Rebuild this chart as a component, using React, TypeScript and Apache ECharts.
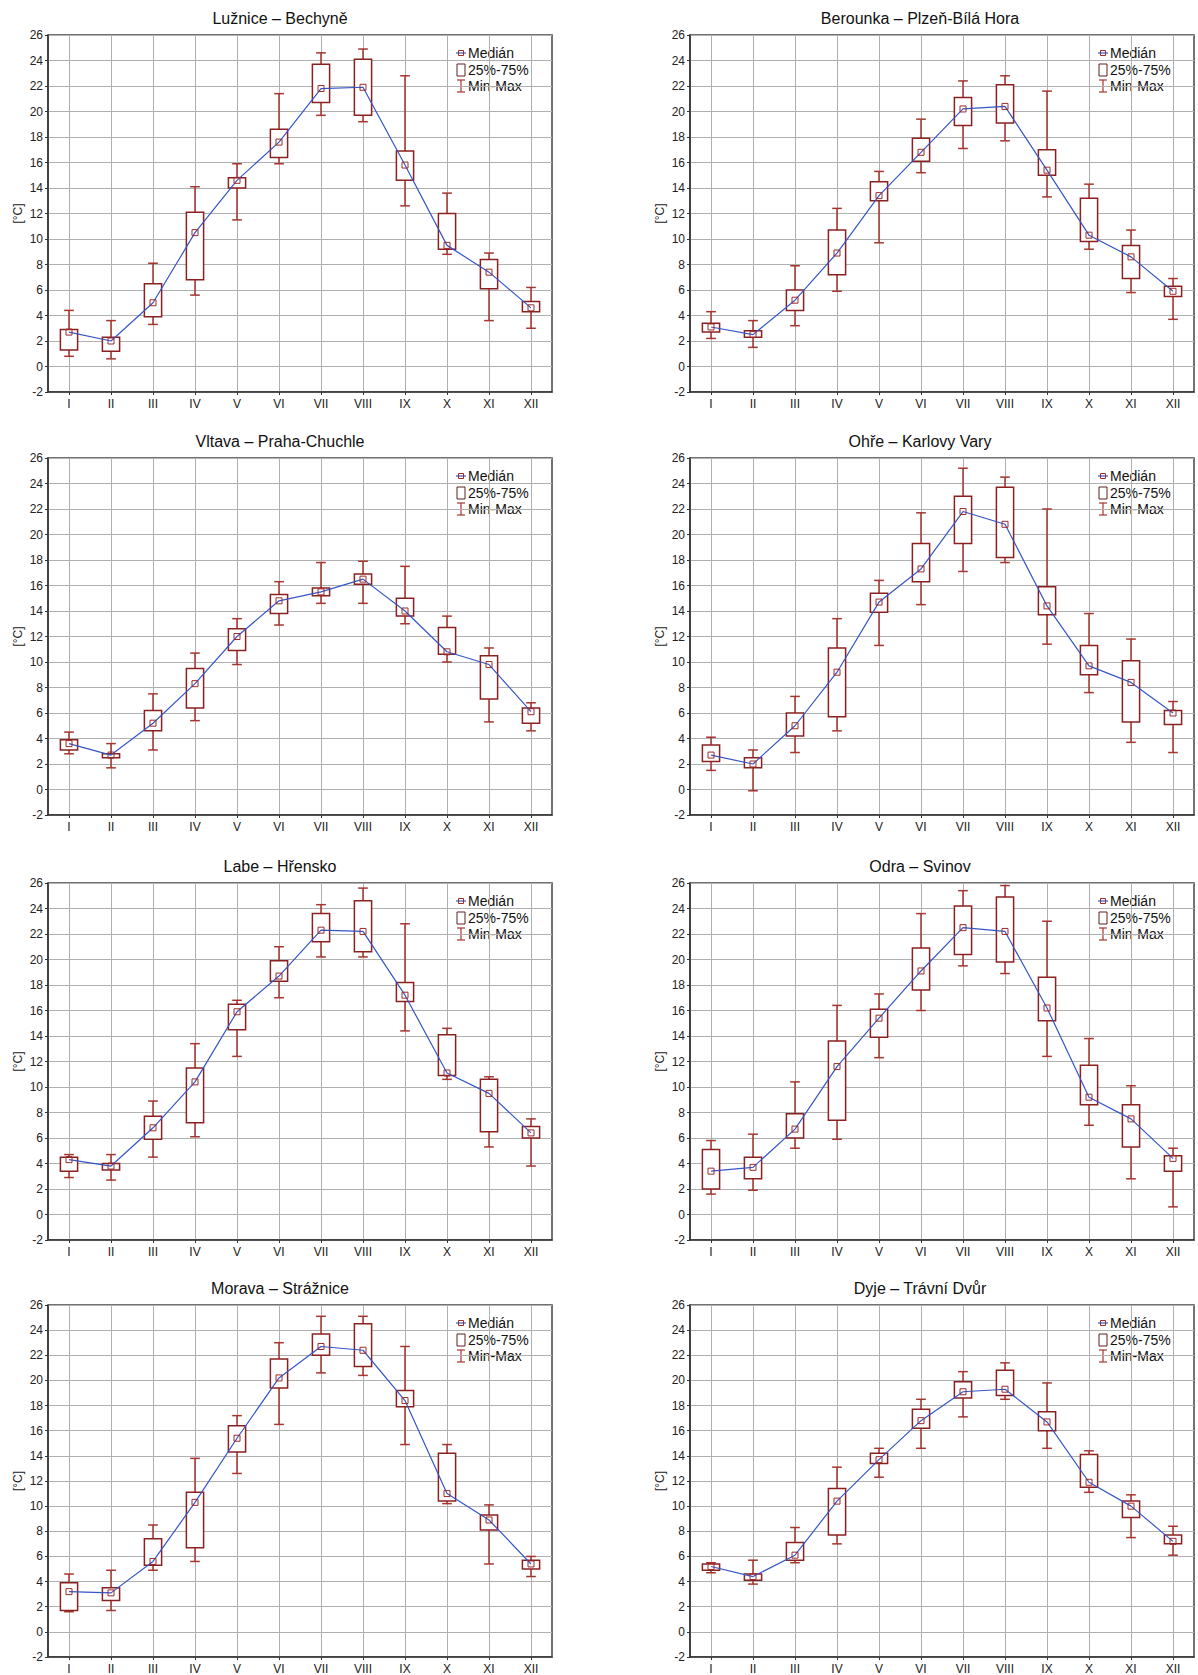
import React, { useEffect, useRef } from 'react';
import * as echarts from 'echarts';

const months = ['I', 'II', 'III', 'IV', 'V', 'VI', 'VII', 'VIII', 'IX', 'X', 'XI', 'XII'];
const Y_MIN = -2;
const Y_MAX = 26;
const Y_STEP = 2;

// each month: [min, q25, median, q75, max]
const luznice = [
  [0.8, 1.3, 2.7, 2.9, 4.4], [0.6, 1.2, 2.0, 2.3, 3.6], [3.3, 3.9, 5.0, 6.5, 8.1], [5.6, 6.8, 10.5, 12.1, 14.1],
  [11.5, 14.0, 14.6, 14.8, 15.9], [15.9, 16.4, 17.6, 18.6, 21.4], [19.7, 20.7, 21.8, 23.7, 24.6], [19.2, 19.7, 21.9, 24.1, 24.9],
  [12.6, 14.6, 15.8, 16.9, 22.8], [8.8, 9.2, 9.5, 12.0, 13.6], [3.6, 6.1, 7.4, 8.4, 8.9], [3.0, 4.3, 4.6, 5.1, 6.2],
];
const berounka = [
  [2.2, 2.7, 3.1, 3.4, 4.3], [1.5, 2.3, 2.5, 2.8, 3.6], [3.2, 4.4, 5.2, 6.0, 7.9], [5.9, 7.2, 8.9, 10.7, 12.4],
  [9.7, 13.0, 13.4, 14.5, 15.3], [15.2, 16.1, 16.8, 17.9, 19.4], [17.1, 18.9, 20.2, 21.1, 22.4], [17.7, 19.1, 20.4, 22.1, 22.8],
  [13.3, 15.0, 15.4, 17.0, 21.6], [9.2, 9.8, 10.3, 13.2, 14.3], [5.8, 6.9, 8.6, 9.5, 10.7], [3.7, 5.5, 5.9, 6.3, 6.9],
];
const vltava = [
  [2.8, 3.1, 3.6, 3.9, 4.5], [1.7, 2.5, 2.7, 2.8, 3.6], [3.1, 4.6, 5.2, 6.2, 7.5], [5.4, 6.4, 8.3, 9.5, 10.7],
  [9.8, 10.9, 12.0, 12.6, 13.4], [12.9, 13.8, 14.8, 15.3, 16.3], [14.6, 15.2, 15.5, 15.8, 17.8], [14.6, 16.1, 16.5, 16.9, 17.9],
  [13.0, 13.6, 14.0, 15.0, 17.5], [10.0, 10.6, 10.8, 12.7, 13.6], [5.3, 7.1, 9.8, 10.5, 11.1], [4.6, 5.2, 6.1, 6.4, 6.8],
];
const ohre = [
  [1.5, 2.2, 2.7, 3.5, 4.1], [-0.1, 1.7, 2.0, 2.5, 3.1], [2.9, 4.2, 5.0, 6.0, 7.3], [4.6, 5.7, 9.2, 11.1, 13.4],
  [11.3, 13.9, 14.7, 15.4, 16.4], [14.5, 16.3, 17.3, 19.3, 21.7], [17.1, 19.3, 21.8, 23.0, 25.2], [17.8, 18.2, 20.8, 23.7, 24.5],
  [11.4, 13.7, 14.4, 15.9, 22.0], [7.6, 9.0, 9.7, 11.3, 13.8], [3.7, 5.3, 8.4, 10.1, 11.8], [2.9, 5.1, 6.0, 6.2, 6.9],
];
const labe = [
  [2.9, 3.4, 4.3, 4.5, 4.7], [2.7, 3.5, 3.8, 4.0, 4.7], [4.5, 5.9, 6.8, 7.7, 8.9], [6.1, 7.2, 10.4, 11.5, 13.4],
  [12.4, 14.5, 15.9, 16.5, 16.8], [17.0, 18.3, 18.7, 19.9, 21.0], [20.2, 21.4, 22.3, 23.6, 24.3], [20.2, 20.6, 22.2, 24.6, 25.6],
  [14.4, 16.7, 17.2, 18.2, 22.8], [10.6, 10.9, 11.1, 14.1, 14.6], [5.3, 6.5, 9.5, 10.6, 10.8], [3.8, 6.0, 6.4, 6.9, 7.5],
];
const odra = [
  [1.6, 2.0, 3.4, 5.1, 5.8], [1.9, 2.8, 3.7, 4.5, 6.3], [5.2, 6.0, 6.7, 7.9, 10.4], [5.9, 7.4, 11.6, 13.6, 16.4],
  [12.3, 13.9, 15.4, 16.1, 17.3], [16.0, 17.6, 19.1, 20.9, 23.6], [19.5, 20.4, 22.5, 24.2, 25.4], [18.9, 19.8, 22.2, 24.9, 25.8],
  [12.4, 15.2, 16.2, 18.6, 23.0], [7.0, 8.6, 9.2, 11.7, 13.8], [2.8, 5.3, 7.5, 8.6, 10.1], [0.6, 3.4, 4.4, 4.6, 5.2],
];
const morava = [
  [1.6, 1.7, 3.2, 3.9, 4.6], [1.7, 2.5, 3.1, 3.5, 4.9], [4.9, 5.3, 5.6, 7.4, 8.5], [5.6, 6.7, 10.3, 11.1, 13.8],
  [12.6, 14.3, 15.4, 16.4, 17.2], [16.5, 19.4, 20.2, 21.7, 23.0], [20.6, 22.0, 22.7, 23.7, 25.1], [20.4, 21.1, 22.4, 24.5, 25.1],
  [14.9, 17.9, 18.4, 19.2, 22.7], [10.2, 10.4, 11.0, 14.2, 14.9], [5.4, 8.1, 8.9, 9.3, 10.1], [4.4, 5.0, 5.4, 5.7, 6.0],
];
const dyje = [
  [4.7, 4.9, 5.2, 5.4, 5.5], [3.8, 4.1, 4.4, 4.6, 5.7], [5.5, 5.7, 6.1, 7.1, 8.3], [7.0, 7.7, 10.4, 11.4, 13.1],
  [12.3, 13.4, 13.7, 14.2, 14.6], [14.6, 16.2, 16.8, 17.7, 18.5], [17.1, 18.6, 19.1, 19.9, 20.7], [18.5, 18.8, 19.3, 20.8, 21.4],
  [14.6, 16.0, 16.7, 17.5, 19.8], [11.1, 11.5, 11.9, 14.1, 14.4], [7.5, 9.1, 10.0, 10.4, 10.9], [6.1, 7.0, 7.2, 7.7, 8.4],
];

const stationTitles = [
  'Lužnice – Bechyně', 'Berounka – Plzeň-Bílá Hora',
  'Vltava – Praha-Chuchle', 'Ohře – Karlovy Vary',
  'Labe – Hřensko', 'Odra – Svinov',
  'Morava – Strážnice', 'Dyje – Trávní Dvůr',
];
const stationData = [luznice, berounka, vltava, ohre, labe, odra, morava, dyje];

const legendLabels = ['Medián', '25%-75%', 'Min-Max'];
const yName = '[°C]';

const FONT = '"Liberation Sans", Arial, Helvetica, sans-serif';
const BOX = '#8a2020';
const WHISK = '#a5352e';
const BLUE = '#3556c6';
const GRIDC = '#b0b0b0';
const AXC = '#333333';
const TEXTC = '#111111';

const COL_LEFT = [48, 690];
const COL_WIDTH = [504, 504];
const PANEL_CX = [280, 920];
const ROW_TOP = [35, 458, 883, 1305];
const PLOT_H = 357;

function buildOption() {
  const grid: any[] = [];
  const xAxis: any[] = [];
  const yAxis: any[] = [];
  const series: any[] = [];
  const graphic: any[] = [];

  stationData.forEach((st, k) => {
    const col = k % 2;
    const row = Math.floor(k / 2);
    const left = COL_LEFT[col];
    const width = COL_WIDTH[col];
    const top = ROW_TOP[row];
    const right = left + width;

    grid.push({
      left, top, width, height: PLOT_H,
      show: true, borderColor: '#444444', borderWidth: 1.5,
      backgroundColor: 'transparent',
    });

    xAxis.push({
      type: 'category', gridIndex: k, data: months, boundaryGap: true,
      axisLine: { show: true, onZero: false, lineStyle: { color: AXC, width: 1.5 } },
      axisTick: { show: true, alignWithLabel: true, length: 3, interval: 0, lineStyle: { color: AXC } },
      axisLabel: { interval: 0, fontSize: 12, color: '#222', fontFamily: FONT, margin: 6 },
      splitLine: { show: true, alignWithLabel: true, interval: 0, lineStyle: { color: GRIDC, width: 1 } },
    });

    yAxis.push({
      type: 'value', gridIndex: k, min: Y_MIN, max: Y_MAX, interval: Y_STEP,
      name: yName, nameLocation: 'middle', nameRotate: 90, nameGap: 24,
      nameTextStyle: { fontSize: 12, color: '#222', fontFamily: FONT },
      axisLine: { show: true, onZero: false, lineStyle: { color: AXC, width: 1.5 } },
      axisTick: { show: true, length: 3, lineStyle: { color: AXC } },
      axisLabel: { fontSize: 12, color: '#222', fontFamily: FONT, margin: 5 },
      splitLine: { show: true, lineStyle: { color: GRIDC, width: 1 } },
    });

    series.push({
      type: 'custom', name: '25%-75%', xAxisIndex: k, yAxisIndex: k, z: 2,
      encode: { x: 0, y: [1, 2, 3, 4, 5] },
      data: st.map((d, i) => [i, d[0], d[1], d[2], d[3], d[4]]),
      renderItem: (params: any, api: any) => {
        const xi = api.value(0);
        const lo = api.coord([xi, api.value(1)]);
        const q1 = api.coord([xi, api.value(2)]);
        const q3 = api.coord([xi, api.value(4)]);
        const hi = api.coord([xi, api.value(5)]);
        const band = api.size([1, 0])[0];
        const bw = band * 0.41;
        const cw = band * 0.23;
        const cx = lo[0];
        const ws = { stroke: WHISK, lineWidth: 1.5 };
        return {
          type: 'group',
          children: [
            { type: 'line', shape: { x1: cx, y1: hi[1], x2: cx, y2: q3[1] }, style: ws },
            { type: 'line', shape: { x1: cx, y1: q1[1], x2: cx, y2: lo[1] }, style: ws },
            { type: 'line', shape: { x1: cx - cw / 2, y1: hi[1], x2: cx + cw / 2, y2: hi[1] }, style: ws },
            { type: 'line', shape: { x1: cx - cw / 2, y1: lo[1], x2: cx + cw / 2, y2: lo[1] }, style: ws },
            {
              type: 'rect',
              shape: { x: cx - bw / 2, y: q3[1], width: bw, height: q1[1] - q3[1] },
              style: { fill: '#ffffff', stroke: BOX, lineWidth: 1.5 },
            },
          ],
        };
      },
    });

    series.push({
      type: 'line', name: 'Medián', xAxisIndex: k, yAxisIndex: k, z: 3,
      data: st.map((d) => d[2]),
      symbol: 'rect', symbolSize: 6, showAllSymbol: true,
      lineStyle: { color: BLUE, width: 1.2 },
      itemStyle: { color: 'rgba(255,255,255,0)', borderColor: '#9a2c2c', borderWidth: 1 },
    });

    // title
    graphic.push({
      type: 'text', x: PANEL_CX[col], y: top - 17,
      style: { text: stationTitles[k], align: 'center', verticalAlign: 'middle', fontSize: 16, fontFamily: FONT, fill: TEXTC },
    });

    // legend
    const ix = right - 91;
    const tx = right - 84;
    const r1 = top + 18;
    const r2 = top + 35;
    const r3 = top + 51;
    graphic.push(
      { type: 'line', shape: { x1: ix - 5, y1: r1, x2: ix + 5, y2: r1 }, style: { stroke: BLUE, lineWidth: 1.2 } },
      { type: 'rect', shape: { x: ix - 2.5, y: r1 - 2.5, width: 5, height: 5 }, style: { fill: 'rgba(255,255,255,0)', stroke: '#9a2c2c', lineWidth: 1 } },
      { type: 'text', x: tx, y: r1, style: { text: legendLabels[0], align: 'left', verticalAlign: 'middle', fontSize: 14, fontFamily: FONT, fill: TEXTC } },
      { type: 'rect', shape: { x: ix - 4, y: r2 - 6, width: 8, height: 12 }, style: { fill: '#fff', stroke: '#5a2020', lineWidth: 1 } },
      { type: 'text', x: tx, y: r2, style: { text: legendLabels[1], align: 'left', verticalAlign: 'middle', fontSize: 14, fontFamily: FONT, fill: TEXTC } },
      { type: 'line', shape: { x1: ix, y1: r3 - 6, x2: ix, y2: r3 + 6 }, style: { stroke: WHISK, lineWidth: 1.2 } },
      { type: 'line', shape: { x1: ix - 4, y1: r3 - 6, x2: ix + 4, y2: r3 - 6 }, style: { stroke: WHISK, lineWidth: 1.2 } },
      { type: 'line', shape: { x1: ix - 4, y1: r3 + 6, x2: ix + 4, y2: r3 + 6 }, style: { stroke: WHISK, lineWidth: 1.2 } },
      { type: 'text', x: tx, y: r3, style: { text: legendLabels[2], align: 'left', verticalAlign: 'middle', fontSize: 14, fontFamily: FONT, fill: TEXTC } },
    );
  });

  return {
    animation: false,
    backgroundColor: '#ffffff',
    textStyle: { fontFamily: FONT },
    grid, xAxis, yAxis, series, graphic,
  };
}

export default function App() {
  const ref = useRef<HTMLDivElement>(null);
  useEffect(() => {
    if (!ref.current) return;
    const chart = echarts.init(ref.current, undefined, { renderer: 'svg' });
    chart.setOption(buildOption());
    return () => chart.dispose();
  }, []);
  return (
    <div
      ref={ref}
      style={{ position: 'absolute', left: 0, top: 0, width: 1198, height: 1675, background: '#fff' }}
    />
  );
}
